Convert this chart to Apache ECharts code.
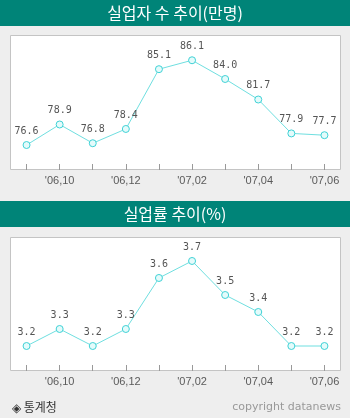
<!DOCTYPE html>
<html>
<head>
<meta charset="utf-8">
<script src="https://cdn.jsdelivr.net/npm/echarts@6/dist/echarts.min.js"></script>
<style>
  html, body { margin: 0; padding: 0; background: #eeeeee; }
  #chart { width: 350px; height: 418px; }
</style>
</head>
<body>
<div id="chart"></div>
<script>
// 월별 실업자 수 / 실업률
var months = ["'06,09", "'06,10", "'06,11", "'06,12", "'07,01", "'07,02", "'07,03", "'07,04", "'07,05", "'07,06"];
var jobless = [76.6, 78.9, 76.8, 78.4, 85.1, 86.1, 84.0, 81.7, 77.9, 77.7];
var joblessRate = [3.2, 3.3, 3.2, 3.3, 3.6, 3.7, 3.5, 3.4, 3.2, 3.2];

var chart = echarts.init(document.getElementById('chart'));

var teal = '#008478';
var lineColor = '#6fdfe0';

function makeXAxis(gridIndex) {
    return {
        type: 'category',
        gridIndex: gridIndex,
        data: months,
        boundaryGap: true,
        axisLine: { show: false },
        axisTick: {
            show: true,
            inside: true,
            length: 6,
            interval: 0,
            alignWithLabel: true,
            lineStyle: { color: '#999999' }
        },
        axisLabel: {
            interval: function (i) { return i % 2 === 1; },
            color: '#5a5a5a',
            fontSize: 11,
            fontFamily: 'Liberation Sans',
            margin: 5
        }
    };
}

function makeSeries(data, idx) {
    return {
        type: 'line',
        xAxisIndex: idx,
        yAxisIndex: idx,
        data: data,
        symbol: 'circle',
        symbolSize: 7,
        lineStyle: { color: lineColor, width: 1 },
        itemStyle: { color: '#e4fbfb', borderColor: '#3fd2d6', borderWidth: 1 },
        label: {
            show: true,
            position: 'top',
            distance: 5,
            color: '#555555',
            fontSize: 10,
            fontFamily: 'DejaVu Sans Mono',
            formatter: function (p) { return p.value.toFixed(1); }
        },
        animation: false
    };
}

var option = {
    backgroundColor: '#eeeeee',
    animation: false,
    graphic: [
        { type: 'rect', shape: { x: 0, y: 0, width: 350, height: 26 }, style: { fill: teal }, z: 0 },
        { type: 'rect', shape: { x: 0, y: 201, width: 350, height: 26 }, style: { fill: teal }, z: 0 },
        { type: 'rect', shape: { x: 10.5, y: 35.5, width: 330, height: 134 }, style: { fill: '#ffffff', stroke: '#c4c4c4', lineWidth: 1 }, z: 0 },
        { type: 'rect', shape: { x: 10.5, y: 237.5, width: 330, height: 133 }, style: { fill: '#ffffff', stroke: '#c4c4c4', lineWidth: 1 }, z: 0 },
        { type: 'text', x: 175, y: 13, style: { text: '실업자 수 추이(만명)', fill: '#ffffff', font: '16px "Noto Sans CJK KR"', align: 'center', verticalAlign: 'middle' }, z: 5 },
        { type: 'text', x: 175, y: 214, style: { text: '실업률 추이(%)', fill: '#ffffff', font: '16px "Noto Sans CJK KR"', align: 'center', verticalAlign: 'middle' }, z: 5 },
        { type: 'text', x: 12, y: 407, style: { text: '◈ 통계청', fill: '#333333', font: '12px "Noto Sans CJK KR"', verticalAlign: 'middle' }, z: 5 },
        { type: 'text', x: 341, y: 407, style: { text: 'copyright datanews', fill: '#999999', font: '11px "DejaVu Sans"', align: 'right', verticalAlign: 'middle' }, z: 5 }
    ],
    grid: [
        { left: 10, width: 331, top: 35, height: 135 },
        { left: 10, width: 331, top: 237, height: 134 }
    ],
    xAxis: [makeXAxis(0), makeXAxis(1)],
    yAxis: [
        { type: 'value', gridIndex: 0, min: 73.8, max: 88.93, show: false, splitLine: { show: false } },
        { type: 'value', gridIndex: 1, min: 3.053, max: 3.841, show: false, splitLine: { show: false } }
    ],
    series: [makeSeries(jobless, 0), makeSeries(joblessRate, 1)]
};

chart.setOption(option);
</script>
</body>
</html>
